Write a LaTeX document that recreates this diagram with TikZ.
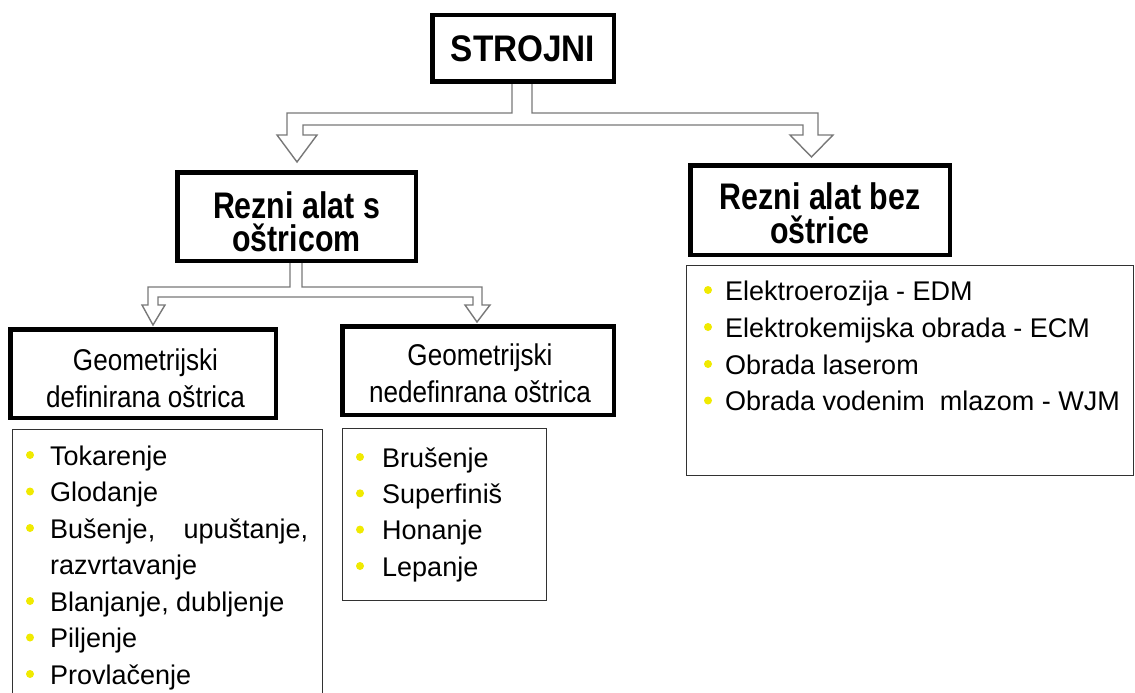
\documentclass[tikz,border=0pt]{standalone}
\usepackage{fontspec}
\setmainfont{Liberation Sans}
\newfontfamily\hfont[FakeStretch=0.82]{Liberation Sans}
\newfontfamily\sfont[FakeStretch=0.9]{Liberation Sans}
\newfontfamily\gfont[FakeStretch=0.87]{Liberation Sans}
\usetikzlibrary{calc}
\pgfdeclarelayer{bg}
\pgfsetlayers{bg,main}
\definecolor{bulcol}{RGB}{240,234,0}
\definecolor{arrgray}{RGB}{120,120,120}
\definecolor{listedge}{RGB}{50,50,50}
\tikzset{
  hbox/.style={draw=black, line width=4.5pt, fill=white, inner sep=0pt},
  lbox/.style={draw=listedge, line width=1.3pt, fill=white, inner sep=0pt},
  htext/.style={anchor=base, inner sep=0pt, font=\hfont\bfseries\fontsize{37}{37}\selectfont},
  stext/.style={anchor=center, inner sep=0pt, font=\sfont\bfseries\fontsize{37}{37}\selectfont},
  gtext/.style={anchor=base, inner sep=0pt, font=\gfont\fontsize{30}{30}\selectfont},
  itemtext/.style={anchor=base west, inner sep=0pt, font=\fontsize{27}{27}\selectfont},
  hollow/.style={draw=arrgray, line width=1.4pt, fill=white, line join=miter},
}
\begin{document}
\begin{tikzpicture}[x=1pt,y=-1pt]
\begin{pgfonlayer}{bg}
\fill[white] (0,0) rectangle (1135,693);
\end{pgfonlayer}
\useasboundingbox (0,0) rectangle (1135,693);

% heading boxes
\node[hbox, minimum width=181.5pt, minimum height=66.5pt] (top) at (523,48.5) {};
\node[hbox, minimum width=238.5pt, minimum height=88.5pt] (rs) at (296.5,216.5) {};
\node[hbox, minimum width=259.5pt, minimum height=89.5pt] (rb) at (820,210) {};
\node[hbox, minimum width=265.5pt, minimum height=88.5pt] (gd) at (143,373.5) {};
\node[hbox, minimum width=271.5pt, minimum height=88.5pt] (gn) at (478,370.5) {};

% list boxes
\begin{scope}
\clip (0,0) rectangle (1135,693);
\node[lbox, minimum width=309.7pt, minimum height=299.7pt] (ll) at (167.5,579.5) {};
\end{scope}
\node[lbox, minimum width=203.7pt, minimum height=171.7pt] (ml) at (444.5,514.5) {};
\node[lbox, minimum width=446.7pt, minimum height=209.7pt] (rl) at (910,370.5) {};

% heading texts
\node[stext] (topT) at (top.center) {STROJNI};
\node[htext] (rs1) at (296.5,218.3) {Rezni alat s};
\node[htext] (rs2) at (296.5,251.5) {oštricom};
\node[htext] (rb1) at (820,209.7) {Rezni alat bez};
\node[htext] (rb2) at (820,243) {oštrice};
\node[gtext] (gd1) at (145.5,370) {Geometrijski};
\node[gtext] (gd2) at (145.5,407) {definirana oštrica};
\node[gtext] (gn1) at (480,365.5) {Geometrijski};
\node[gtext] (gn2) at (480,402.5) {nedefinrana oštrica};

% left list
\fill[bulcol] (30,455) circle[radius=4pt];
\node[itemtext] (l1) at (50,465) {Tokarenje};
\fill[bulcol] (30,491.5) circle[radius=4pt];
\node[itemtext] (l2) at (50,501.5) {Glodanje};
\fill[bulcol] (30,528) circle[radius=4pt];
\node[itemtext] (l3) at (50,538) {\makebox[258pt]{Bušenje,\hfill upuštanje,}};
\node[itemtext] (l4) at (50,574.5) {razvrtavanje};
\fill[bulcol] (30,601) circle[radius=4pt];
\node[itemtext] (l5) at (50,611) {Blanjanje, dubljenje};
\fill[bulcol] (30,637.5) circle[radius=4pt];
\node[itemtext] (l6) at (50,647.5) {Piljenje};
\fill[bulcol] (30,674) circle[radius=4pt];
\node[itemtext] (l7) at (50,684) {Provlačenje};

% middle list
\fill[bulcol] (360,457) circle[radius=4pt];
\node[itemtext] (m1) at (382,467) {Brušenje};
\fill[bulcol] (360,493.3) circle[radius=4pt];
\node[itemtext] (m2) at (382,503.3) {Superfiniš};
\fill[bulcol] (360,529.6) circle[radius=4pt];
\node[itemtext] (m3) at (382,539.6) {Honanje};
\fill[bulcol] (360,566) circle[radius=4pt];
\node[itemtext] (m4) at (382,576) {Lepanje};

% right list
\fill[bulcol] (708,290) circle[radius=4pt];
\node[itemtext] (r1) at (725,300) {Elektroerozija - EDM};
\fill[bulcol] (708,327) circle[radius=4pt];
\node[itemtext] (r2) at (725,337) {Elektrokemijska obrada - ECM};
\fill[bulcol] (708,364) circle[radius=4pt];
\node[itemtext] (r3) at (725,374) {Obrada laserom};
\fill[bulcol] (708,400.5) circle[radius=4pt];
\node[itemtext] (r4) at (725,410.5) {Obrada vodenim~~mlazom - WJM};

% hollow arrows
\begin{pgfonlayer}{bg}
\draw[hollow] ($(top.south)+(-11,0)$) |- ($(rs.north)+(-9.5,-57)$)
  -- ++(0,22) -- ++(-10,0) -- ($(rs.north)+(0.5,-8)$)
  -- ++(20,-27) -- ++(-14,0) -- ++(0,-10)
  -- ($(rb.north)+(-17,-38)$) -- ++(0,10) -- ++(-13,0)
  -- ($(rb.north)+(-8.5,-6)$) -- ++(21.5,-22) -- ++(-15,0) -- ++(0,-22)
  -| ($(top.south)+(9,0)$);
\draw[hollow] ($(rs.south)+(-6.5,0)$) |- ($(gd.north)+(5,-40)$)
  -- ++(0,18) -- ++(-6,0) -- ($(gd.north)+(10,-2)$)
  -- ++(12,-20) -- ++(-7,0) -- ++(0,-8)
  -- ($(gn.north)+(-5,-27)$) -- ++(0,8) -- ++(-8,0)
  -- ($(gn.north)+(-1,-2)$) -- ++(13,-17) -- ++(-8,0) -- ++(0,-18)
  -| ($(rs.south)+(5.5,0)$);
\end{pgfonlayer}
\end{tikzpicture}
\end{document}
